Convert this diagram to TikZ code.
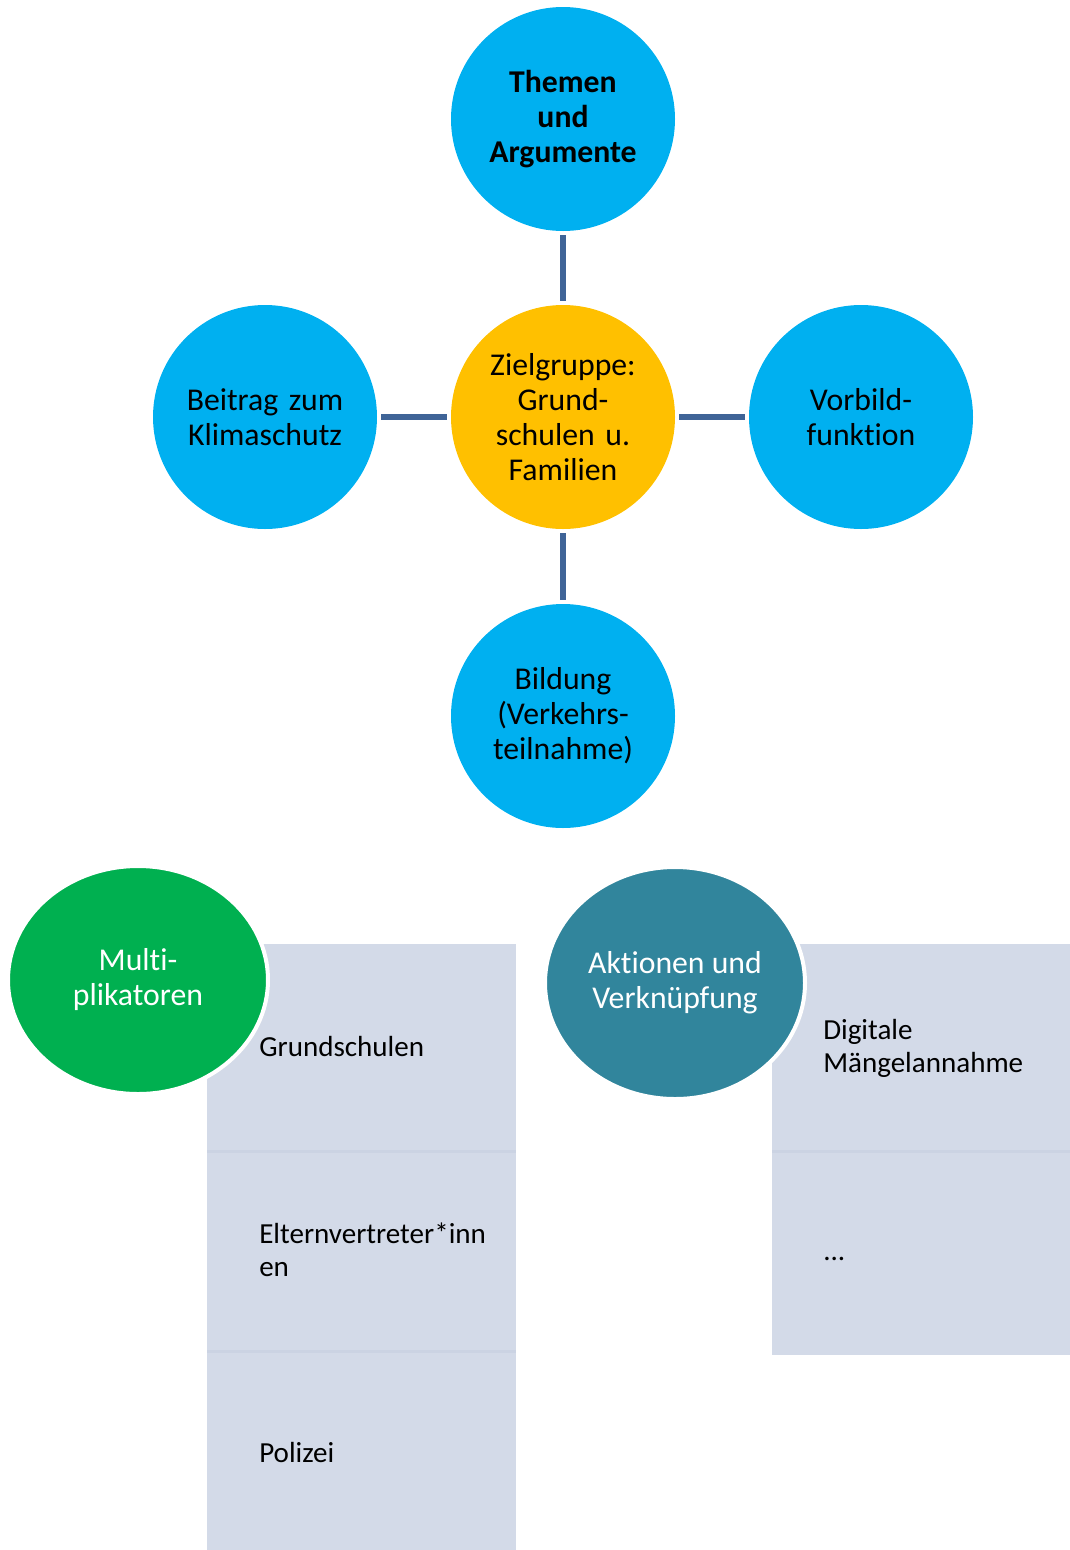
\documentclass[tikz,border=0pt]{standalone}
\usetikzlibrary{shapes.geometric}
\usepackage{fontspec}
\setmainfont[Ligatures=NoCommon]{Carlito}
\begin{document}
\begin{tikzpicture}[x=0.75pt,y=-0.75pt,
  bub/.style={circle,minimum size=168pt,inner sep=0pt,align=center,text width=122pt,
    font=\fontsize{23.8}{26.25}\selectfont},
  blue/.style={bub,fill=cyanb},
  conn/.style={draw=linec,line width=3.8pt,shorten <=3pt,shorten >=3pt},
  boxc/.style={fill=boxf,draw=none},
  btext/.style={inner sep=0pt,align=left,font=\fontsize{21.8}{24.75}\selectfont},
  ell/.style={ellipse,draw=white,line width=3pt,align=center,text=white,inner sep=0pt,
    font=\fontsize{23.8}{26.25}\selectfont}
]
\definecolor{cyanb}{HTML}{00B0F0}
\definecolor{yel}{HTML}{FFC000}
\definecolor{grn}{HTML}{00B050}
\definecolor{teal}{HTML}{31859C}
\definecolor{linec}{HTML}{3F6497}
\definecolor{boxf}{HTML}{D3DAE8}
\definecolor{boxl}{HTML}{CBD3E3}
\useasboundingbox (0,0) rectangle (1070,1550);
% circles
\node[blue] (top) at (563,119) {\textbf{Themen}\\\textbf{und}\\\textbf{Argumente}};
\node[bub,fill=yel] (ctr) at (563,417) {Zielgruppe:\\Grund-\\schulen u.\\Familien};
\node[blue] (lft) at (265,417) {Beitrag zum\\Klimaschutz};
\node[blue] (rgt) at (861,417) {Vorbild-\\funktion};
\node[blue] (bot) at (563,716) {Bildung\\(Verkehrs-\\teilnahme)};
\draw[conn] (top) -- (ctr);
\draw[conn] (lft) -- (ctr);
\draw[conn] (ctr) -- (rgt);
\draw[conn] (ctr) -- (bot);
% left boxes
\path[boxc] (207,944) rectangle (516,1150);
\path[boxc] (207,1153) rectangle (516,1350);
\path[boxc] (207,1353) rectangle (516,1550);
\fill[boxl] (207,1150) rectangle (516,1153);
\fill[boxl] (207,1350) rectangle (516,1353);
% right boxes
\path[boxc] (772,944) rectangle (1070,1150);
\path[boxc] (772,1153) rectangle (1070,1355);
\fill[boxl] (772,1150) rectangle (1070,1153);
% box texts
\node[btext,anchor=base west] (t1) at (259,1056) {Grundschulen};
\node[btext,anchor=west] (t2) at (259,1250) {Elternvertreter*inn\\en};
\node[btext,anchor=base west] (t3) at (259,1462) {Polizei};
\node[btext,anchor=west] (t4) at (823,1048) {Digitale\\Mängelannahme};
\node[btext,anchor=base west] (t5) at (823,1260) {...};
% ellipses
\node[ell,fill=grn,minimum width=195pt,minimum height=171pt] (mul) at (138,980) {Multi-\\plikatoren};
\node[ell,fill=teal,minimum width=195pt,minimum height=174pt] (akt) at (675,983) {Aktionen und\\Verknüpfung};
\end{tikzpicture}
\end{document}
